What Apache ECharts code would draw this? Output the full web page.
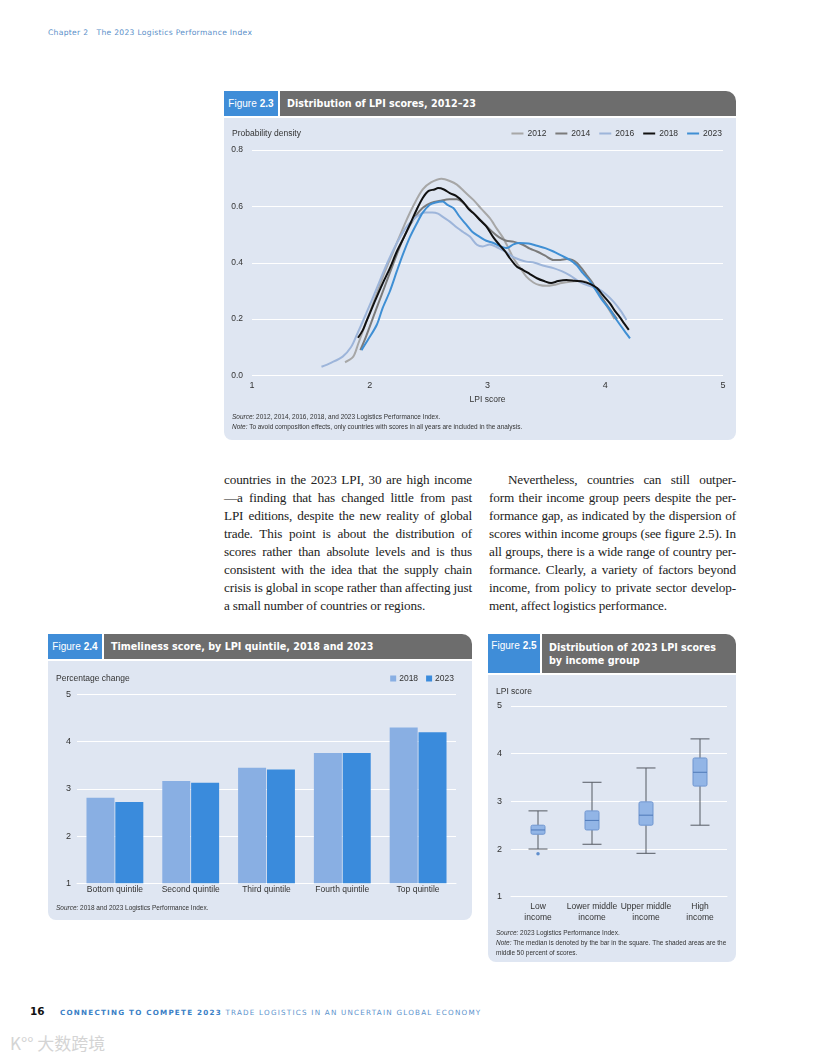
<!DOCTYPE html>
<html>
<head>
<meta charset="utf-8">
<script src="https://cdn.jsdelivr.net/npm/echarts@6/dist/echarts.min.js"></script>
<style>
  html, body { margin:0; padding:0; background:#fff; }
  body { width:816px; height:1056px; position:relative; overflow:hidden; font-family:"Liberation Sans Narrow","Liberation Sans",Arial,sans-serif; }
  .abs { position:absolute; }
  .tab { position:absolute; background:#3f8dd8; color:#fff; font-size:10px; display:flex; align-items:center; justify-content:center; }
  .tab b { margin-left:3px; }
  .hdr { position:absolute; background:#6d6d6d; color:#fff; font-family:"DejaVu Sans",sans-serif; font-weight:bold; font-size:9.6px; border-top-right-radius:10px; padding-left:7px; box-sizing:border-box; display:flex; align-items:center; line-height:13px; }
  .panel { position:absolute; background:#dfe6f2; border-bottom-left-radius:8px; border-bottom-right-radius:8px; }
  .chart { position:absolute; }
  .src { position:absolute; font-size:7.2px; color:#333; line-height:10px; white-space:nowrap; transform:scaleX(0.9); transform-origin:0 0; }
  .src i { font-style:italic; }
  .col { position:absolute; font-family:"Liberation Serif","DejaVu Serif",serif; font-size:13.2px; letter-spacing:-0.15px; color:#222; line-height:18px; }
  .col div { text-align:justify; text-align-last:justify; white-space:nowrap; }
  .col div.last { text-align-last:left; }
</style>
</head>
<body>
<div class="abs" style="left:48px;top:28px;font-family:'DejaVu Sans',sans-serif;font-size:7.6px;letter-spacing:0.3px;color:#5a8fc9;white-space:pre;">Chapter 2   The 2023 Logistics Performance Index</div>

<!-- Figure 2.3 -->
<div class="tab" style="left:224px;top:91px;width:54px;height:25px;">Figure<b>2.3</b></div>
<div class="hdr" style="left:280px;top:91px;width:456px;height:25px;">Distribution of LPI scores, 2012–23</div>
<div class="panel" style="left:224px;top:118px;width:512px;height:322px;"></div>
<div id="c1" class="chart" style="left:224px;top:118px;width:512px;height:322px;"></div>
<div class="src" style="left:232px;top:412px;"><i>Source:</i> 2012, 2014, 2016, 2018, and 2023 Logistics Performance Index.<br><i>Note:</i> To avoid composition effects, only countries with scores in all years are included in the analysis.</div>

<!-- Body text -->
<div class="col" style="left:224px;top:471px;width:248px;">
<div>countries in the 2023 LPI, 30 are high income</div>
<div>—a finding that has changed little from past</div>
<div>LPI editions, despite the new reality of global</div>
<div>trade. This point is about the distribution of</div>
<div>scores rather than absolute levels and is thus</div>
<div>consistent with the idea that the supply chain</div>
<div>crisis is global in scope rather than affecting just</div>
<div class="last">a small number of countries or regions.</div>
</div>
<div class="col" style="left:489px;top:471px;width:247px;">
<div style="padding-left:19px;">Nevertheless, countries can still outper-</div>
<div>form their income group peers despite the per-</div>
<div>formance gap, as indicated by the dispersion of</div>
<div>scores within income groups (see figure 2.5). In</div>
<div>all groups, there is a wide range of country per-</div>
<div>formance. Clearly, a variety of factors beyond</div>
<div>income, from policy to private sector develop-</div>
<div class="last">ment, affect logistics performance.</div>
</div>

<!-- Figure 2.4 -->
<div class="tab" style="left:48px;top:634px;width:54px;height:25px;">Figure<b>2.4</b></div>
<div class="hdr" style="left:104px;top:634px;width:368px;height:25px;">Timeliness score, by LPI quintile, 2018 and 2023</div>
<div class="panel" style="left:48px;top:661px;width:424px;height:259px;"></div>
<div id="c2" class="chart" style="left:48px;top:661px;width:424px;height:259px;"></div>
<div class="src" style="left:56px;top:903px;"><i>Source:</i> 2018 and 2023 Logistics Performance Index.</div>

<!-- Figure 2.5 -->
<div class="tab" style="left:488px;top:634px;width:52px;height:39px;align-items:flex-start;padding-top:6px;box-sizing:border-box;">Figure<b>2.5</b></div>
<div class="hdr" style="left:542px;top:634px;width:194px;height:39px;">Distribution of 2023 LPI scores<br>by income group</div>
<div class="panel" style="left:488px;top:675px;width:248px;height:287px;"></div>
<div id="c3" class="chart" style="left:488px;top:675px;width:248px;height:287px;"></div>
<div class="src" style="left:496px;top:928px;"><i>Source:</i> 2023 Logistics Performance Index.<br><i>Note:</i> The median is denoted by the bar in the square. The shaded areas are the<br>middle 50 percent of scores.</div>

<!-- Footer -->
<div class="abs" style="left:30px;top:1005px;font-family:'DejaVu Sans',sans-serif;font-weight:bold;font-size:10.5px;color:#111;">16</div>
<div class="abs" style="left:60px;top:1008px;font-family:'DejaVu Sans',sans-serif;font-size:7.2px;letter-spacing:1.22px;white-space:nowrap;"><span style="font-weight:bold;color:#3a80c6;">CONNECTING TO COMPETE 2023</span> <span style="color:#5b92cc;">TRADE LOGISTICS IN AN UNCERTAIN GLOBAL ECONOMY</span></div>
<div class="abs" style="left:10px;top:1030px;font-family:'Noto Sans CJK SC',sans-serif;font-size:17px;color:#d4d4d4;white-space:nowrap;">K°° 大数跨境</div>

<script>
// ---------- Figure 2.3 data ----------
const years = ['2012', '2014', '2016', '2018', '2023'];
const d2012 = [[1.79,0.047],[1.86,0.067],[1.90,0.11],[1.97,0.19],[2.05,0.28],[2.13,0.37],[2.22,0.46],[2.30,0.54],[2.38,0.61],[2.45,0.66],[2.52,0.685],[2.61,0.698],[2.68,0.69],[2.74,0.677],[2.81,0.65],[2.88,0.623],[2.95,0.59],[3.02,0.558],[3.08,0.52],[3.13,0.49],[3.18,0.45],[3.22,0.416],[3.28,0.38],[3.33,0.351],[3.39,0.33],[3.44,0.321],[3.50,0.318],[3.56,0.321],[3.63,0.328],[3.70,0.333],[3.77,0.335],[3.83,0.333],[3.88,0.32],[3.93,0.30],[3.98,0.27],[4.03,0.235],[4.08,0.20]];
const d2014 = [[1.92,0.09],[1.97,0.14],[2.05,0.23],[2.14,0.33],[2.23,0.43],[2.30,0.50],[2.38,0.56],[2.45,0.595],[2.52,0.612],[2.60,0.62],[2.68,0.625],[2.74,0.625],[2.80,0.61],[2.86,0.585],[2.92,0.56],[2.98,0.535],[3.04,0.51],[3.10,0.49],[3.16,0.478],[3.22,0.475],[3.30,0.464],[3.36,0.45],[3.42,0.44],[3.49,0.425],[3.56,0.41],[3.62,0.41],[3.67,0.413],[3.72,0.41],[3.76,0.399],[3.80,0.38],[3.84,0.357],[3.89,0.33],[3.93,0.30],[3.98,0.27],[4.04,0.235],[4.10,0.20]];
const d2016 = [[1.59,0.031],[1.67,0.045],[1.77,0.067],[1.84,0.10],[1.89,0.144],[1.97,0.22],[2.06,0.31],[2.15,0.40],[2.23,0.47],[2.30,0.52],[2.36,0.55],[2.42,0.57],[2.47,0.578],[2.53,0.578],[2.58,0.574],[2.63,0.56],[2.68,0.546],[2.74,0.525],[2.79,0.51],[2.85,0.493],[2.91,0.464],[2.96,0.458],[3.02,0.465],[3.08,0.455],[3.15,0.44],[3.22,0.42],[3.28,0.41],[3.33,0.404],[3.40,0.40],[3.47,0.39],[3.56,0.381],[3.63,0.37],[3.70,0.355],[3.78,0.333],[3.85,0.32],[3.93,0.31],[4.00,0.29],[4.07,0.262],[4.13,0.23],[4.18,0.197]];
const d2018 = [[1.90,0.134],[1.94,0.16],[1.97,0.19],[2.04,0.26],[2.11,0.327],[2.17,0.38],[2.23,0.44],[2.29,0.49],[2.34,0.535],[2.40,0.59],[2.45,0.63],[2.50,0.655],[2.55,0.66],[2.58,0.665],[2.63,0.66],[2.68,0.647],[2.73,0.638],[2.79,0.617],[2.84,0.59],[2.88,0.576],[2.94,0.55],[2.99,0.529],[3.05,0.49],[3.10,0.464],[3.15,0.44],[3.19,0.416],[3.25,0.386],[3.30,0.375],[3.36,0.36],[3.42,0.345],[3.48,0.335],[3.54,0.328],[3.60,0.335],[3.67,0.339],[3.74,0.336],[3.81,0.333],[3.87,0.325],[3.93,0.31],[3.98,0.285],[4.04,0.256],[4.08,0.23],[4.12,0.209],[4.16,0.185],[4.20,0.162]];
const d2023 = [[1.93,0.09],[1.99,0.13],[2.06,0.18],[2.11,0.24],[2.17,0.298],[2.23,0.37],[2.28,0.428],[2.34,0.49],[2.40,0.54],[2.45,0.578],[2.51,0.606],[2.56,0.614],[2.62,0.617],[2.66,0.605],[2.71,0.594],[2.76,0.565],[2.82,0.535],[2.87,0.51],[2.93,0.493],[2.99,0.478],[3.05,0.47],[3.10,0.46],[3.16,0.452],[3.22,0.465],[3.27,0.47],[3.35,0.468],[3.42,0.46],[3.49,0.452],[3.56,0.44],[3.63,0.425],[3.70,0.41],[3.76,0.39],[3.81,0.363],[3.86,0.34],[3.91,0.31],[3.97,0.27],[4.04,0.233],[4.10,0.195],[4.16,0.16],[4.21,0.132]];
const densityData = [d2012, d2014, d2016, d2018, d2023];
const lineColors = ['#a7a7a7', '#7b7b7b', '#9db5da', '#111111', '#3f8fd4'];

// ---------- Figure 2.4 data ----------
const quintiles = ['Bottom quintile', 'Second quintile', 'Third quintile', 'Fourth quintile', 'Top quintile'];
const timeliness2018 = [2.81, 3.17, 3.45, 3.76, 4.30];
const timeliness2023 = [2.72, 3.13, 3.41, 3.76, 4.20];

// ---------- Figure 2.5 data ----------
const incomeGroups = ['Low\nincome', 'Lower middle\nincome', 'Upper middle\nincome', 'High\nincome'];
const boxLow    = [2.00, 2.10, 1.91, 2.50];
const boxQ1     = [2.31, 2.40, 2.50, 3.32];
const boxMedian = [2.40, 2.60, 2.71, 3.61];
const boxQ3     = [2.50, 2.80, 2.99, 3.91];
const boxHigh   = [2.80, 3.40, 3.70, 4.31];
const outliers  = [[0, 1.90]];

const FONT = '"Liberation Sans Narrow","Liberation Sans",Arial,sans-serif';

// ---------- Chart 1 ----------
const c1 = echarts.init(document.getElementById('c1'));
c1.setOption({
  animation: false,
  grid: { left: 28, right: 13, top: 32, bottom: 64.5 },
  title: { text: 'Probability density', left: 8, top: 11, padding: 0, textStyle: { fontFamily: FONT, fontSize: 8.5, fontWeight: 'normal', color: '#333' } },
  legend: {
    right: 14, top: 11, padding: 0, itemWidth: 12, itemHeight: 2, itemGap: 9, icon: 'rect',
    textStyle: { fontFamily: FONT, fontSize: 8.5, color: '#333', padding: [0, 0, 0, -1] },
    data: years
  },
  xAxis: {
    type: 'value', min: 1, max: 5, interval: 1,
    name: 'LPI score', nameLocation: 'middle', nameGap: 18,
    nameTextStyle: { fontFamily: FONT, fontSize: 8.5, color: '#333' },
    axisLine: { show: false }, axisTick: { show: false }, splitLine: { show: false },
    axisLabel: { fontFamily: FONT, fontSize: 9, color: '#333', margin: 6 }
  },
  yAxis: {
    type: 'value', min: 0, max: 0.8, interval: 0.2,
    axisLine: { show: false }, axisTick: { show: false },
    splitLine: { lineStyle: { color: '#ffffff', width: 1 } },
    axisLabel: { fontFamily: FONT, fontSize: 8.5, color: '#333', margin: 9, formatter: v => v.toFixed(1) }
  },
  series: years.map((y, i) => ({
    name: y, type: 'line', data: densityData[i], showSymbol: false, symbol: 'none',
    smooth: 0.3, lineStyle: { width: 2, color: lineColors[i] }, itemStyle: { color: lineColors[i] },
    z: i === 3 ? 5 : 3
  }))
});

// ---------- Chart 2 ----------
const barColors = ['#89afe3', '#3a8bdc'];
const c2 = echarts.init(document.getElementById('c2'));
c2.setOption({
  animation: false,
  grid: { left: 29, right: 16, top: 33.5, bottom: 36.7 },
  title: { text: 'Percentage change', left: 8, top: 13, padding: 0, textStyle: { fontFamily: FONT, fontSize: 8.5, fontWeight: 'normal', color: '#333' } },
  legend: {
    right: 18, top: 13, padding: 0, itemWidth: 6, itemHeight: 6, itemGap: 8, icon: 'rect',
    textStyle: { fontFamily: FONT, fontSize: 8.5, color: '#333', padding: [0, 0, 0, -2] },
    data: ['2018', '2023']
  },
  xAxis: {
    type: 'category', data: quintiles,
    axisLine: { lineStyle: { color: '#ffffff', width: 1 } }, axisTick: { show: false },
    axisLabel: { fontFamily: FONT, fontSize: 8.5, color: '#333', margin: 2 }
  },
  yAxis: {
    type: 'value', min: 1, max: 5, interval: 1,
    axisLine: { show: false }, axisTick: { show: false },
    splitLine: { lineStyle: { color: '#ffffff' } },
    axisLabel: { fontFamily: FONT, fontSize: 9, color: '#333', margin: 6 }
  },
  series: [
    { name: '2018', type: 'bar', data: timeliness2018, barWidth: 28, barGap: '3%', itemStyle: { color: barColors[0] } },
    { name: '2023', type: 'bar', data: timeliness2023, barWidth: 28, itemStyle: { color: barColors[1] } }
  ]
});

// ---------- Chart 3 ----------
const boxRows = incomeGroups.map((g, i) => [i, boxLow[i], boxQ1[i], boxMedian[i], boxQ3[i], boxHigh[i]]);
const c3 = echarts.init(document.getElementById('c3'));
c3.setOption({
  animation: false,
  grid: { left: 23, right: 9, top: 31, bottom: 65.3 },
  title: { text: 'LPI score', left: 8, top: 12, padding: 0, textStyle: { fontFamily: FONT, fontSize: 8.5, fontWeight: 'normal', color: '#333' } },
  xAxis: {
    type: 'category', data: incomeGroups,
    axisLine: { lineStyle: { color: '#ffffff' } }, axisTick: { show: false },
    axisLabel: { fontFamily: FONT, fontSize: 8.5, color: '#333', margin: 4, lineHeight: 11, interval: 0 }
  },
  yAxis: {
    type: 'value', min: 1, max: 5, interval: 1,
    axisLine: { show: false }, axisTick: { show: false },
    splitLine: { lineStyle: { color: '#ffffff' } },
    axisLabel: { fontFamily: FONT, fontSize: 9, color: '#333', margin: 9 }
  },
  series: [
    {
      type: 'custom', data: boxRows,
      renderItem: function (params, api) {
        const i = api.value(0);
        const pLow = api.coord([i, api.value(1)]);
        const pQ1 = api.coord([i, api.value(2)]);
        const pMed = api.coord([i, api.value(3)]);
        const pQ3 = api.coord([i, api.value(4)]);
        const pHigh = api.coord([i, api.value(5)]);
        const x = pLow[0], bw = 14, cw = 19;
        const ws = { stroke: '#555a63', lineWidth: 1 };
        return {
          type: 'group',
          children: [
            { type: 'line', shape: { x1: x, y1: pHigh[1], x2: x, y2: pQ3[1] }, style: ws },
            { type: 'line', shape: { x1: x, y1: pQ1[1], x2: x, y2: pLow[1] }, style: ws },
            { type: 'line', shape: { x1: x - cw / 2, y1: pHigh[1], x2: x + cw / 2, y2: pHigh[1] }, style: ws },
            { type: 'line', shape: { x1: x - cw / 2, y1: pLow[1], x2: x + cw / 2, y2: pLow[1] }, style: ws },
            { type: 'rect', shape: { x: x - bw / 2, y: pQ3[1], width: bw, height: pQ1[1] - pQ3[1], r: 1.5 }, style: { fill: '#92b5e6', stroke: '#6f95cf', lineWidth: 1 } },
            { type: 'line', shape: { x1: x - bw / 2, y1: pMed[1], x2: x + bw / 2, y2: pMed[1] }, style: { stroke: '#4f79b8', lineWidth: 1 } }
          ]
        };
      }
    },
    { type: 'scatter', data: outliers, symbolSize: 3.5, itemStyle: { color: '#3f78c3' } }
  ]
});
</script>
</body>
</html>
